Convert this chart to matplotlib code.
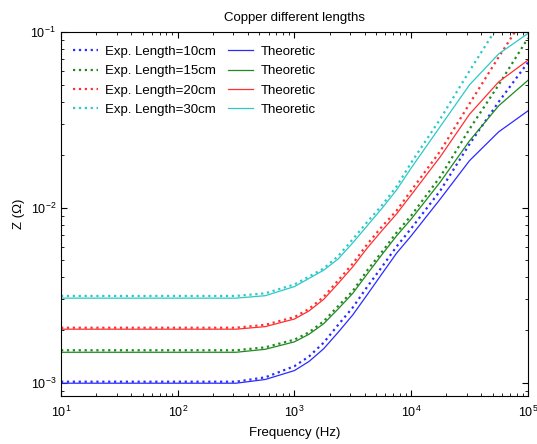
import numpy as np
import matplotlib
matplotlib.use('Agg')
import matplotlib.pyplot as plt

# frequency grid (log10 Hz)
logf = [1, 1.5, 2, 2.5, 2.75, 3.0, 3.125, 3.25, 3.375, 3.5, 3.625, 3.75, 3.875, 4.0, 4.25, 4.5, 4.75, 5]

# measured impedance (Ohm)
exp_10 = [1.02e-3, 1.02e-3, 1.02e-3, 1.02e-3, 1.08e-3, 1.25e-3, 1.42e-3, 1.7e-3, 2.15e-3, 2.7e-3,
          3.55e-3, 4.6e-3, 6.0e-3, 7.6e-3, 0.0125, 0.023, 0.040, 0.067]
exp_15 = [1.54e-3, 1.54e-3, 1.54e-3, 1.54e-3, 1.6e-3, 1.77e-3, 1.95e-3, 2.25e-3, 2.75e-3, 3.35e-3,
          4.4e-3, 5.6e-3, 7.2e-3, 9.0e-3, 0.015, 0.028, 0.050, 0.092]
exp_20 = [2.07e-3, 2.07e-3, 2.07e-3, 2.07e-3, 2.15e-3, 2.38e-3, 2.65e-3, 3.1e-3, 3.85e-3, 4.8e-3,
          6.2e-3, 7.8e-3, 9.6e-3, 0.0125, 0.021, 0.039, 0.072, 0.13]
exp_30 = [3.14e-3, 3.14e-3, 3.14e-3, 3.14e-3, 3.25e-3, 3.65e-3, 4.05e-3, 4.5e-3, 5.3e-3, 6.6e-3,
          8.3e-3, 0.0103, 0.0132, 0.018, 0.032, 0.060, 0.11, 0.19]

# theoretic impedance (Ohm)
th_10 = [1.0e-3, 1.0e-3, 1.0e-3, 1.0e-3, 1.05e-3, 1.18e-3, 1.33e-3, 1.57e-3, 1.95e-3, 2.45e-3,
         3.2e-3, 4.2e-3, 5.5e-3, 6.9e-3, 0.0112, 0.0185, 0.027, 0.0355]
th_15 = [1.5e-3, 1.5e-3, 1.5e-3, 1.5e-3, 1.56e-3, 1.72e-3, 1.9e-3, 2.18e-3, 2.65e-3, 3.25e-3,
         4.2e-3, 5.4e-3, 6.9e-3, 8.6e-3, 0.014, 0.024, 0.038, 0.053]
th_20 = [2.03e-3, 2.03e-3, 2.03e-3, 2.03e-3, 2.1e-3, 2.32e-3, 2.58e-3, 3.0e-3, 3.7e-3, 4.6e-3,
         5.9e-3, 7.4e-3, 9.2e-3, 0.0118, 0.0195, 0.034, 0.052, 0.069]
th_30 = [3.05e-3, 3.05e-3, 3.05e-3, 3.05e-3, 3.15e-3, 3.55e-3, 3.95e-3, 4.4e-3, 5.1e-3, 6.3e-3,
         7.9e-3, 0.0099, 0.0126, 0.0168, 0.029, 0.050, 0.075, 0.098]

labels = ['Exp. Length=10cm', 'Exp. Length=15cm', 'Exp. Length=20cm', 'Exp. Length=30cm']
colors = ['#2b2bff', '#1f8a1f', '#ff3030', '#2ec8c8']

plt.rcParams['font.family'] = ['Liberation Sans', 'DejaVu Sans']
plt.rcParams['font.size'] = 9

f = 10 ** np.array(logf)

fig = plt.figure(figsize=(5.37, 4.44), dpi=100)
ax = fig.add_axes([0.1136, 0.108, 0.8694, 0.820])

exps = [exp_10, exp_15, exp_20, exp_30]
ths = [th_10, th_15, th_20, th_30]
hexp = []
hth = []
for e, c, lab in zip(exps, colors, labels):
    h, = ax.plot(f, e, ':', color=c, lw=1.6, label=lab)
    hexp.append(h)
for t, c in zip(ths, colors):
    h, = ax.plot(f, t, '-', color=c, lw=0.9, label='Theoretic')
    hth.append(h)

ax.set_xscale('log')
ax.set_yscale('log')
ax.set_xlim(10, 1e5)
ax.set_ylim(8.45e-4, 0.1)
ax.tick_params(which='both', direction='in', top=True, right=True, labelsize=9)
ax.tick_params(axis='x', which='major', pad=6)
ax.tick_params(which='major', length=4)
ax.tick_params(which='minor', length=2)

ax.set_title('Copper different lengths', fontsize=9.5, pad=8)
ax.set_xlabel('Frequency (Hz)', fontsize=9.5, labelpad=5)
ax.set_ylabel('Z (\u03a9)', fontsize=9.5)

ax.legend(hexp + hth, labels + ['Theoretic'] * 4, ncol=2, loc='upper left',
          bbox_to_anchor=(0.0, 0.995), frameon=False, fontsize=9.5,
          handlelength=1.9, handletextpad=0.55, labelspacing=0.54,
          columnspacing=0.9)

fig.savefig('out.png', dpi=100)
